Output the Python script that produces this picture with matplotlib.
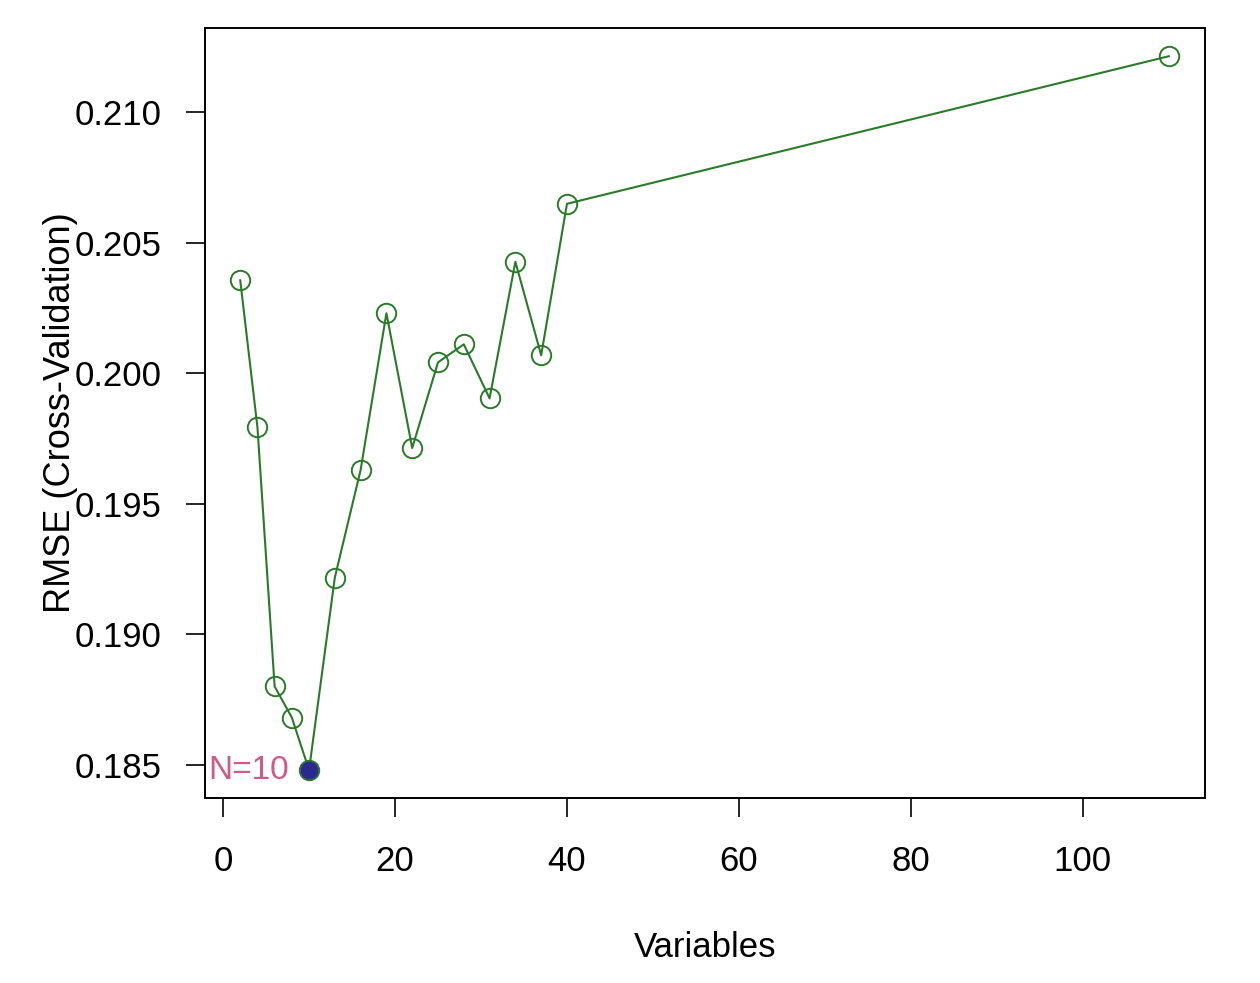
import matplotlib
matplotlib.use("Agg")
from matplotlib import pyplot as plt

# RMSE from cross-validation vs number of variables
variables = [2, 4, 6, 8, 10, 13, 16, 19, 22, 25, 28, 31, 34, 37, 40, 110]
rmse = [0.20356, 0.19793, 0.18801, 0.18682, 0.18481, 0.19218, 0.19630, 0.20230,
        0.19714, 0.20042, 0.20111, 0.19904, 0.20427, 0.20069, 0.20649, 0.21214]
best_n = 10
best_rmse = 0.18481
xticks = [0, 20, 40, 60, 80, 100]
yticks = [0.185, 0.190, 0.195, 0.200, 0.205, 0.210]

plt.rcParams['font.family'] = ['Liberation Sans', 'DejaVu Sans']

fig = plt.figure(figsize=(12.6, 9.83), dpi=100)
ax = fig.add_axes([0.1627, 0.1882, 0.7936, 0.7833])

ax.plot(variables, rmse, color='#2a7a2a', lw=1.5, marker='o', ms=14,
        mfc='none', mec='#2a7a2a', mew=1.4)
ax.plot([best_n], [best_rmse], 'o', color='#2a2a8c', ms=12)
ax.text(best_n - 2.3, best_rmse, "N=%d" % best_n, color='#d05a80',
        fontsize=24, ha='right', va='center')

ax.set_xlim(-2.1, 114.2)
ax.set_ylim(0.18374, 0.21322)
ax.set_xticks(xticks)
ax.set_xticklabels([str(t) for t in xticks])
ax.set_yticks(yticks)
ax.set_yticklabels(["%.3f" % t for t in yticks])
ax.tick_params(direction='out', length=14, width=1.2, labelsize=25, pad=17)
ax.tick_params(axis='x', pad=20)
for s in ax.spines.values():
    s.set_linewidth(1.4)

ax.set_xlabel("Variables", fontsize=25, labelpad=38)
ax.set_ylabel("RMSE (Cross-Validation)", fontsize=26, labelpad=-2)

fig.savefig("out.png", dpi=100)
